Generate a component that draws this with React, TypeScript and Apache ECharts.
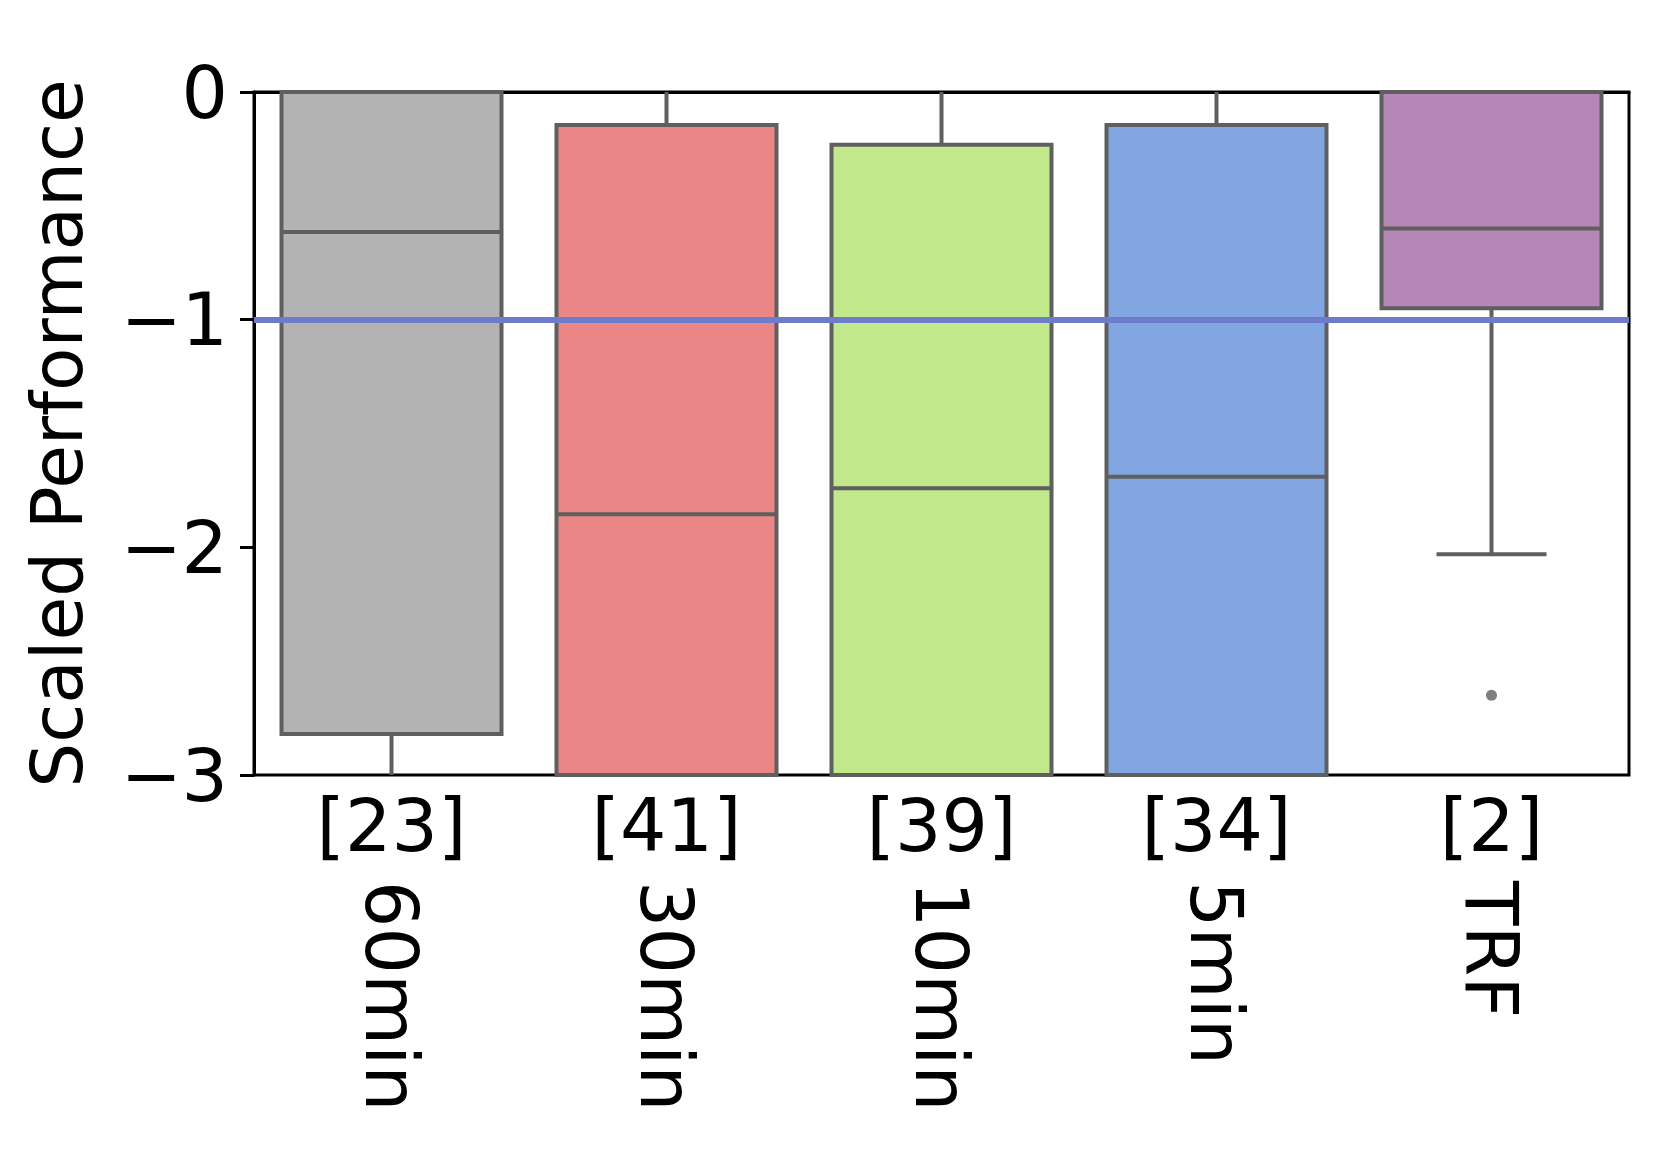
import React, { useEffect, useRef } from "react";
import * as echarts from "echarts";

const categories = ["60min", "30min", "10min", "5min", "TRF"];
const counts = ["[23]", "[41]", "[39]", "[34]", "[2]"];
const whiskerLow = [-3.6, -4.5, -4.5, -4.5, -2.03];
const q1 = [-2.82, -3.4, -3.3, -3.3, -0.95];
const median = [-0.615, -1.855, -1.74, -1.69, -0.6];
const q3 = [0, -0.145, -0.232, -0.145, 0];
const whiskerHigh = [0, 0, 0, 0, 0];
const outliers = [[4, -2.65]];
const boxColors = ["#b3b3b3", "#eb8686", "#c1e88b", "#81a6e2", "#b587b6"];
const yTicks = [-3, -2, -1, 0];
const refLine = -1;

const FONT = "DejaVu Sans";
const EDGE = "#5f5f5f";

export default function App() {
  const ref = useRef<HTMLDivElement>(null);
  useEffect(() => {
    const chart = echarts.init(ref.current!, null, { renderer: "svg" });
    const boxData = categories.map((_, i) => [i, whiskerLow[i], q1[i], median[i], q3[i], whiskerHigh[i]]);
    const option: any = {
      animation: false,
      backgroundColor: "#ffffff",
      grid: {
        left: 254,
        top: 92,
        width: 1375,
        height: 683,
        show: true,
        borderColor: "#000000",
        borderWidth: 3,
        backgroundColor: "transparent",
      },
      xAxis: [
        {
          type: "category",
          data: counts,
          position: "bottom",
          axisLine: { show: true, lineStyle: { color: "#000", width: 3 } },
          axisTick: { show: true, alignWithLabel: true, length: 14, lineStyle: { color: "#000", width: 3 } },
          axisLabel: { color: "#000", fontSize: 73, fontFamily: FONT, margin: 14 },
          splitLine: { show: false },
        },
        {
          type: "category",
          data: categories,
          position: "bottom",
          offset: 0,
          axisLine: { show: false },
          axisTick: { show: false },
          axisLabel: {
            color: "#000",
            fontSize: 73,
            fontFamily: FONT,
            margin: 106,
            rotate: -90,
            padding: [0, 0, 10, 0],
          },
          splitLine: { show: false },
        },
      ],
      yAxis: {
        type: "value",
        min: yTicks[0],
        max: yTicks[yTicks.length - 1],
        interval: 1,
        name: "Scaled Performance",
        nameLocation: "middle",
        nameGap: 161,
        nameTextStyle: { color: "#000", fontSize: 71, fontFamily: FONT },
        axisLine: { show: true, lineStyle: { color: "#000", width: 3 } },
        axisTick: { show: true, length: 14, lineStyle: { color: "#000", width: 3 } },
        axisLabel: {
          color: "#000",
          fontSize: 73,
          fontFamily: FONT,
          margin: 26,
          formatter: (v: number) => String(v).replace("-", "\u2212"),
        },
        splitLine: { show: false },
      },
      series: [
        {
          type: "custom",
          xAxisIndex: 0,
          yAxisIndex: 0,
          data: boxData,
          encode: { x: 0, y: [1, 2, 3, 4, 5] },
          renderItem: (params: any, api: any) => {
            const idx = api.value(0);
            const cs = params.coordSys;
            const yTop = cs.y;
            const yBot = cs.y + cs.height;
            const clamp = (v: number) => Math.max(yTop, Math.min(yBot, v));
            const inside = (v: number) => v > yTop + 0.5 && v < yBot - 0.5;
            const xC = api.coord([idx, 0])[0];
            const band = api.size([1, 0])[0];
            const bw = band * 0.8;
            const yWL = api.coord([idx, api.value(1)])[1];
            const yQ1 = api.coord([idx, api.value(2)])[1];
            const yMed = api.coord([idx, api.value(3)])[1];
            const yQ3 = api.coord([idx, api.value(4)])[1];
            const yWH = api.coord([idx, api.value(5)])[1];
            const lineStyle = { stroke: EDGE, lineWidth: 4, fill: null };
            const children: any[] = [];
            const a1 = clamp(yQ1), b1 = clamp(yWL);
            if (b1 - a1 > 0.5) {
              children.push({ type: "line", shape: { x1: xC, y1: a1, x2: xC, y2: b1 }, style: lineStyle });
            }
            const a2 = clamp(yWH), b2 = clamp(yQ3);
            if (b2 - a2 > 0.5) {
              children.push({ type: "line", shape: { x1: xC, y1: a2, x2: xC, y2: b2 }, style: lineStyle });
            }
            if (inside(yWL)) {
              children.push({ type: "line", shape: { x1: xC - bw / 4, y1: yWL, x2: xC + bw / 4, y2: yWL }, style: lineStyle });
            }
            if (inside(yWH)) {
              children.push({ type: "line", shape: { x1: xC - bw / 4, y1: yWH, x2: xC + bw / 4, y2: yWH }, style: lineStyle });
            }
            const top = clamp(yQ3), bot = clamp(yQ1);
            children.push({
              type: "rect",
              shape: { x: xC - bw / 2, y: top, width: bw, height: bot - top },
              style: { fill: boxColors[idx], stroke: EDGE, lineWidth: 4 },
            });
            if (inside(yMed)) {
              children.push({ type: "line", shape: { x1: xC - bw / 2, y1: yMed, x2: xC + bw / 2, y2: yMed }, style: lineStyle });
            }
            return { type: "group", children };
          },
        },
        {
          type: "scatter",
          xAxisIndex: 0,
          yAxisIndex: 0,
          data: outliers,
          symbol: "circle",
          symbolSize: 11,
          itemStyle: { color: EDGE },
          z: 5,
          markLine: {
            silent: true,
            symbol: "none",
            label: { show: false },
            lineStyle: { color: "#6d7dcc", width: 6, type: "solid" },
            data: [{ yAxis: refLine }],
          },
        },
      ],
    };
    chart.setOption(option);
    return () => chart.dispose();
  }, []);
  return (
    <div
      ref={ref}
      style={{ position: "fixed", left: 0, top: 0, width: 1661, height: 1174, background: "#fff" }}
    />
  );
}
